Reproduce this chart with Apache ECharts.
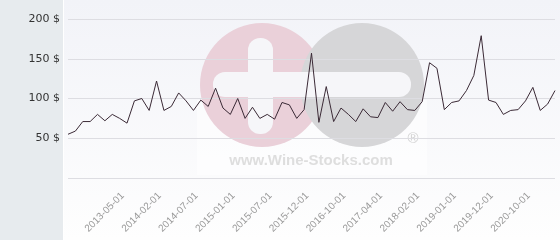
<!DOCTYPE html>
<html>
<head>
<meta charset="utf-8">
<script src="https://cdn.jsdelivr.net/npm/echarts@6/dist/echarts.min.js"></script>
<style>
html,body{margin:0;padding:0;background:#fff;}
#chart{width:560px;height:240px;}
</style>
</head>
<body>
<div id="chart"></div>
<script>
var categories = [
  '2012-05-01','2012-06-01','2012-08-01','2012-09-01','2012-11-01','2012-12-01','2013-02-01','2013-03-01',
  '2013-05-01','2013-07-01','2013-09-01','2013-10-01','2013-12-01',
  '2014-02-01','2014-03-01','2014-04-01','2014-05-01','2014-06-01',
  '2014-07-01','2014-08-01','2014-10-01','2014-11-01','2014-12-01',
  '2015-01-01','2015-02-01','2015-03-01','2015-04-01','2015-06-01',
  '2015-07-01','2015-08-01','2015-09-01','2015-10-01','2015-11-01',
  '2015-12-01','2016-02-01','2016-04-01','2016-06-01','2016-08-01',
  '2016-10-01','2016-11-01','2016-12-01','2017-01-01','2017-03-01',
  '2017-04-01','2017-06-01','2017-08-01','2017-10-01','2017-12-01',
  '2018-02-01','2018-04-01','2018-06-01','2018-08-01','2018-10-01',
  '2019-01-01','2019-03-01','2019-05-01','2019-07-01','2019-09-01',
  '2019-12-01','2020-02-01','2020-04-01','2020-06-01','2020-08-01',
  '2020-10-01','2020-12-01','2021-02-01','2021-04-01'
];
var prices = [
  55, 59, 71, 71, 80, 72, 80, 75, 69, 97,
  100, 85, 122, 85, 90, 107, 97, 85, 98, 90,
  113, 88, 80, 100, 75, 89, 75, 80, 74, 95,
  92, 75, 86, 157, 70, 115, 71, 88, 80, 71,
  87, 77, 76, 95, 84, 96, 86, 85, 96, 145,
  138, 86, 95, 97, 110, 129, 179, 98, 95, 80,
  85, 86, 97, 114, 85, 93, 110
];
var yTicks = [0, 50, 100, 150, 200];
var firstLabelIndex = 8;
var labelStep = 5;

var chart = echarts.init(document.getElementById('chart'), null, {renderer: 'canvas'});
chart.setOption({
  animation: false,
  backgroundColor: '#ffffff',
  graphic: [
    {type: 'rect', z: -20, shape: {x: 0, y: 0, width: 63, height: 240}, style: {fill: '#e7ebee'}},
    {type: 'rect', z: -20, shape: {x: 64, y: 0, width: 496, height: 240},
      style: {fill: new echarts.graphic.LinearGradient(0, 0, 0, 1, [
        {offset: 0, color: '#f2f3f8'}, {offset: 1, color: '#fefefe'}])}},
    {type: 'rect', z: -19, shape: {x: 197, y: 100, width: 230, height: 75}, style: {fill: 'rgba(255,255,255,0.55)'}},
    {type: 'circle', z: -18, shape: {cx: 262, cy: 85, r: 62}, style: {fill: '#ead0d9'}},
    {type: 'circle', z: -17, shape: {cx: 362, cy: 85, r: 62}, style: {fill: '#d6d6d8'}},
    {type: 'rect', z: -16, shape: {x: 248, y: 38, width: 25, height: 96, r: 12}, style: {fill: '#f6f6f9'}},
    {type: 'rect', z: -16, shape: {x: 213, y: 72, width: 198, height: 25, r: 12}, style: {fill: '#f6f6f9'}},
    {type: 'text', z: -15, x: 311, y: 161, style: {text: 'www.Wine-Stocks.com', fill: '#dedede',
      font: 'bold 15px "Liberation Sans", Arial, sans-serif', align: 'center', verticalAlign: 'middle'}},
    {type: 'text', z: -15, x: 413, y: 139, style: {text: '®', fill: '#d2d2d2',
      font: '15px "Liberation Sans", Arial, sans-serif', align: 'center', verticalAlign: 'middle'}}
  ],
  grid: {left: 68, right: 5, top: 19, bottom: 62, containLabel: false},
  xAxis: {
    type: 'category',
    data: categories,
    boundaryGap: false,
    axisLine: {show: false},
    axisTick: {show: false},
    splitLine: {show: false},
    axisLabel: {
      rotate: 45,
      margin: 12,
      padding: [0, 6, 0, 0],
      color: '#999999',
      fontSize: 10,
      fontFamily: '"Liberation Sans", Arial, sans-serif',
      interval: function (i) { return i >= firstLabelIndex && (i - firstLabelIndex) % labelStep === 0; }
    }
  },
  yAxis: {
    type: 'value',
    min: yTicks[0],
    max: yTicks[yTicks.length - 1],
    interval: 50,
    axisLine: {show: false},
    axisTick: {show: false},
    splitLine: {lineStyle: {color: '#dddde2', width: 1}},
    axisLabel: {
      margin: 8,
      color: '#333333',
      fontSize: 11,
      fontFamily: '"DejaVu Sans", sans-serif',
      formatter: function (v) { return v === 0 ? '' : v + ' $'; }
    }
  },
  series: [{
    type: 'line',
    data: prices,
    symbol: 'none',
    lineStyle: {color: '#3b2a36', width: 1},
    z: 5
  }]
});
</script>
</body>
</html>
